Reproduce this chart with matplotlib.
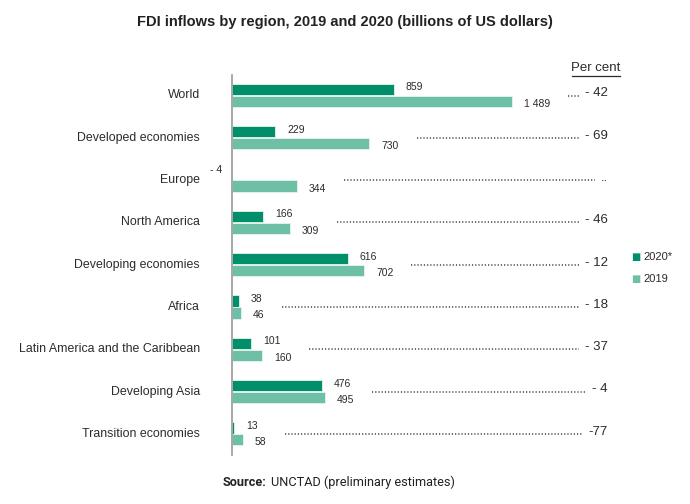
import matplotlib.pyplot as plt

regions = ["World", "Developed economies", "Europe", "North America",
           "Developing economies", "Africa", "Latin America and the Caribbean",
           "Developing Asia", "Transition economies"]
fdi_2020 = [859, 229, -4, 166, 616, 38, 101, 476, 13]
fdi_2019 = [1489, 730, 344, 309, 702, 46, 160, 495, 58]
pct_change = ["- 42", "- 69", "..", "- 46", "- 12", "- 18", "- 37", "- 4", "-77"]

dark = "#008f6b"
light = "#6dc0a6"
txt = "#2b2b2b"
font = "Liberation Sans"

W, H = 690, 504
fig = plt.figure(figsize=(6.9, 5.04), dpi=100)

# axes placed so that x = 0 sits on pixel 232 and 1 489 reaches pixel 512
ax_left, ax_right = 232, 690
ax_top, ax_bot = 70, 460
ax = fig.add_axes([ax_left / W, 1 - ax_bot / H, (ax_right - ax_left) / W, (ax_bot - ax_top) / H])
px_per_unit = 280 / 1489
ax.set_xlim(0, (ax_right - ax_left) / px_per_unit)
row_px = 42.3
ax.set_ylim((ax_bot - 95.5) / row_px, (ax_top - 95.5) / row_px)

ypos = list(range(len(regions)))
bh = 0.265
off = 0.14
ax.barh([y - off for y in ypos], [max(v, 0) for v in fdi_2020], height=bh,
        color=dark, edgecolor="#e6f4ef", linewidth=0.6)
ax.barh([y + off for y in ypos], fdi_2019, height=bh,
        color=light, edgecolor="#e6f4ef", linewidth=0.6)

for s in ["top", "right", "bottom"]:
    ax.spines[s].set_visible(False)
ax.spines["left"].set_color("#9a9a9a")
ax.spines["left"].set_linewidth(1.2)
ax.spines["left"].set_bounds((455 - 95.5) / row_px, (75 - 95.5) / row_px)
ax.set_xticks([])
ax.set_yticks([])
ax.patch.set_alpha(0)

gap = 12 / px_per_unit
pct_x = (608 - ax_left) / px_per_unit
labels19 = []
pct_labels = []
for y, v20, v19, p in zip(ypos, fdi_2020, fdi_2019, pct_change):
    if v20 < 0:
        ax.annotate(f"- {abs(v20)}", (0, y - off - 0.1), xytext=(-7, 0),
                    textcoords="offset points", ha="right", va="center",
                    fontsize=7.5, family=font, color=txt)
    else:
        ax.text(v20 + gap, y - off - 0.05, str(v20), ha="left", va="center",
                fontsize=7.5, family=font, color=txt)
    lab19 = f"{v19:,}".replace(",", " ")
    labels19.append(ax.text(v19 + gap, y + off + 0.06, lab19, ha="left", va="center",
                            fontsize=7.5, family=font, color=txt))
    pct_labels.append(ax.text(pct_x, y - 0.05, p, ha="right", va="center",
                              fontsize=9.5, family=font, color=txt))

for y, name in zip(ypos, regions):
    ax.annotate(name, (0, y), xytext=(-32 * 72 / 100, 0), textcoords="offset points",
                ha="right", va="center", fontsize=8.9, family=font, color=txt)

# dotted leader lines from the 2019 label to the percentage
fig.canvas.draw()
inv = ax.transData.inverted()
for y, t19, tp in zip(ypos, labels19, pct_labels):
    x0 = t19.get_window_extent().x1 + 18
    x1 = tp.get_window_extent().x0 - 6
    d0 = inv.transform((x0, 0))[0]
    d1 = inv.transform((x1, 0))[0]
    ax.plot([d0, d1], [y, y], color="#444444", linestyle=(0, (0.8, 1.3)),
            linewidth=1.1, dash_capstyle="butt")

fig.text(620 / W, 1 - 68 / H, "Per cent", ha="right", va="center", fontsize=9.5,
         family=font, color=txt)
fig.add_artist(plt.Line2D([572 / W, 620 / W], [1 - 76 / H, 1 - 76 / H], color=txt, linewidth=0.9))

# legend
for yy, col, lab in [(257, dark, "2020*"), (279, light, "2019")]:
    fig.text(636 / W, 1 - yy / H, "\u25A0", color=col, fontsize=7, ha="center", va="center",
             family="DejaVu Sans")
    fig.text(643 / W, 1 - yy / H, lab, color=txt, fontsize=8, ha="left", va="center",
             family=font)

fig.text(0.5, 1 - 22 / H, "FDI inflows by region, 2019 and 2020 (billions of US dollars)",
         ha="center", va="center", fontsize=10.5, fontweight="bold",
         family=font, color="#222222")

s1 = fig.text(223 / W, 1 - 482 / H, "Source:", ha="left", va="center", fontsize=9.2,
              fontweight="bold", family="Roboto", color="#222222")
fig.canvas.draw()
bb = s1.get_window_extent()
fig.text((bb.x1 + 4) / W, 1 - 482 / H, "UNCTAD (preliminary estimates)", ha="left",
         va="center", fontsize=9.2, family="Roboto", color="#222222")

fig.savefig("out.png", dpi=100)
